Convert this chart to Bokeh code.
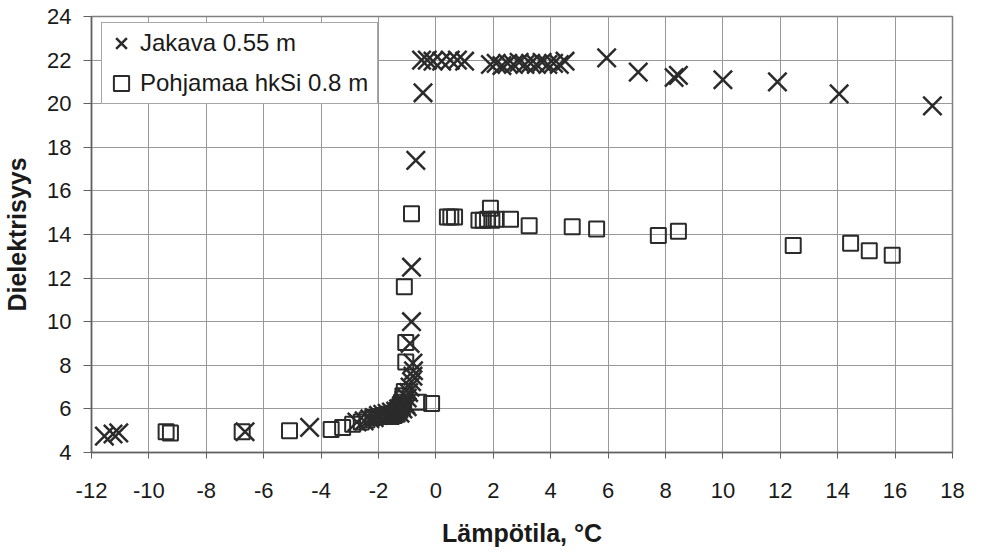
from bokeh.plotting import figure
from bokeh.models import ColumnDataSource, Legend, LegendItem, FixedTicker, Range1d
from bokeh.embed import file_html
from bokeh.resources import INLINE

# Jakava 0.55 m
jak_t = [-11.55, -11.25, -11.05, -6.65, -4.4,
         -2.75, -2.5, -2.3, -2.15, -2.0, -1.85, -1.7, -1.55, -1.4, -1.3, -1.2, -1.1,
         -1.25, -1.15, -1.05, -1.0,
         -1.0, -0.95, -0.9, -0.85, -0.8, -0.78, -0.8, -0.9, -0.85, -0.85, -0.7, -0.45,
         -0.5, -0.3, -0.1, 0.2, 0.5, 0.75, 1.0,
         1.9, 2.1, 2.3, 2.5, 2.7, 2.9, 3.1, 3.3, 3.5, 3.7, 3.9, 4.1, 4.3, 4.5,
         5.95, 7.05, 8.3, 8.45, 10.0, 11.9, 14.05, 17.3]
jak_e = [4.75, 4.85, 4.9, 4.95, 5.15,
         5.4, 5.45, 5.55, 5.6, 5.7, 5.75, 5.8, 5.85, 5.9, 6.0, 6.15, 6.3,
         5.8, 6.0, 6.2, 6.1,
         6.5, 6.75, 7.0, 7.25, 7.5, 7.75, 8.1, 9.0, 10.0, 12.5, 17.4, 20.5,
         22.0, 22.0, 21.95, 21.95, 22.0, 22.0, 21.95,
         21.8, 21.85, 21.75, 21.85, 21.8, 21.9, 21.8, 21.85, 21.8, 21.9, 21.8, 21.85, 21.8, 21.95,
         22.1, 21.45, 21.2, 21.3, 21.1, 21.0, 20.45, 19.9]

# Pohjamaa hkSi 0.8 m
poh_t = [-9.4, -9.25, -6.75, -5.1, -3.65, -3.25, -2.9, -2.6, -2.4, -2.2, -2.0, -1.8,
         -1.65, -1.5, -1.4, -1.35, -1.3, -1.25, -1.2, -1.15, -1.15, -1.1,
         -1.55, -1.45, -1.35, -1.3, -1.25, -1.2, -1.15,
         -1.05, -1.05, -1.1, -0.85, -0.6, -0.15,
         0.4, 0.52, 0.65, 1.5, 1.65, 1.8, 1.9, 1.95, 2.1, 2.6, 3.25,
         4.75, 5.6, 7.75, 8.45, 12.45, 14.45, 15.1, 15.9]
poh_e = [4.95, 4.9, 4.95, 5.0, 5.05, 5.15, 5.3, 5.4, 5.5, 5.6, 5.65, 5.7,
         5.75, 5.8, 5.85, 5.95, 6.05, 6.15, 6.3, 6.45, 6.6, 6.8,
         5.65, 5.7, 5.75, 5.9, 6.0, 6.1, 6.2,
         8.15, 9.05, 11.6, 14.95, 6.3, 6.25,
         14.8, 14.8, 14.8, 14.65, 14.65, 14.7, 15.2, 14.65, 14.7, 14.7, 14.4,
         14.35, 14.25, 13.95, 14.15, 13.5, 13.6, 13.25, 13.05]

x_ticks = list(range(-12, 19, 2))
x_tick_labels = ["-12", "-10", "-8", "-6", "-4", "-2", "0", "2", "4", "6", "8",
                 "10", "12", "14", "16", "18"]
y_ticks = list(range(4, 25, 2))
labels = ["Jakava 0.55 m", "Pohjamaa hkSi 0.8 m"]

FONT = "Liberation Sans"
INK = "#2b2b2b"

p = figure(width=980, height=550, x_range=Range1d(-12, 18), y_range=Range1d(4, 24),
           output_backend="svg", toolbar_location=None,
           min_border_left=90, min_border_top=16, min_border_right=28, min_border_bottom=98)
p.background_fill_color = "white"
p.border_fill_color = "white"
p.outline_line_color = "#808080"
p.outline_line_width = 1.5

p.xaxis.ticker = FixedTicker(ticks=x_ticks)
p.yaxis.ticker = FixedTicker(ticks=y_ticks)
p.xgrid.ticker = FixedTicker(ticks=x_ticks)
p.ygrid.ticker = FixedTicker(ticks=y_ticks)
p.xaxis.major_label_overrides = {t: s for t, s in zip(x_ticks, x_tick_labels)}
for g in (p.xgrid, p.ygrid):
    g.grid_line_color = "#999999"
    g.grid_line_width = 1

for ax in (p.xaxis, p.yaxis):
    ax.axis_line_color = "#606060"
    ax.axis_line_width = 1.5
    ax.major_tick_line_color = "#606060"
    ax.major_tick_in = 0
    ax.minor_tick_line_color = None
    ax.major_label_text_font = FONT
    ax.major_label_text_font_size = "22px"
    ax.major_label_text_color = "#1a1a1a"
    ax.axis_label_text_font = FONT
    ax.axis_label_text_font_style = "bold"
    ax.axis_label_text_font_size = "25px"
    ax.axis_label_text_color = "#1a1a1a"

p.xaxis.major_tick_out = 6
p.xaxis.major_label_standoff = 24
p.xaxis.axis_label_standoff = 18
p.xaxis.axis_label = "Lämpötila, °C"
p.yaxis.major_tick_out = 8
p.yaxis.major_label_standoff = 12
p.yaxis.axis_label_standoff = 13
p.yaxis.axis_label = "Dielektrisyys"

src_j = ColumnDataSource(dict(t=jak_t, e=jak_e))
src_p = ColumnDataSource(dict(t=poh_t, e=poh_e))

r_p = p.scatter("t", "e", source=src_p, marker="square", size=15,
                fill_alpha=0, line_color=INK, line_width=2)
r_j = p.scatter("t", "e", source=src_j, marker="x", size=26,
                line_color=INK, line_width=2.5)

legend = Legend(items=[LegendItem(label=labels[0], renderers=[r_j]),
                       LegendItem(label=labels[1], renderers=[r_p])],
                location=(10, 348), margin=0, padding=0, spacing=0,
                glyph_width=38, glyph_height=40, label_height=20, label_standoff=0,
                label_width=237,
                label_text_font=FONT, label_text_font_size="24px", label_text_color="#1a1a1a",
                border_line_color="#505050", border_line_width=1.2,
                background_fill_color="white", background_fill_alpha=1)
p.add_layout(legend, "center")

open("out.html", "w").write(file_html(p, INLINE))
